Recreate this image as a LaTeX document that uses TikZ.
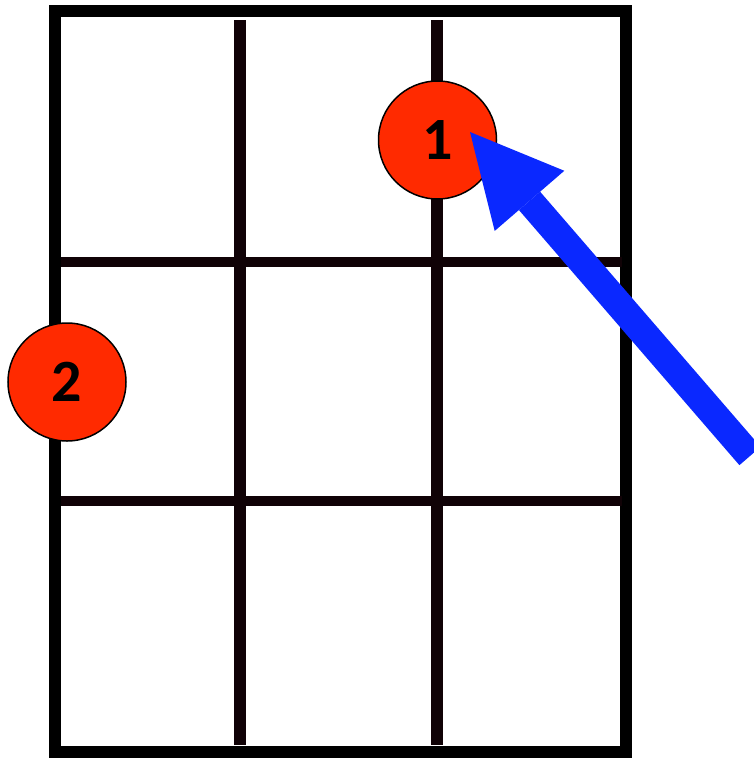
\documentclass[tikz,border=0pt]{standalone}
\usepackage{fontspec}
\setmainfont{Carlito}
\usetikzlibrary{arrows.meta}
\definecolor{dotred}{RGB}{255,42,0}
\definecolor{arrowblue}{RGB}{10,40,255}
\definecolor{gridblack}{RGB}{16,2,6}
\tikzset{
  border/.style={draw=black, line width=12pt},
  vline/.style={draw=gridblack, line width=12pt},
  hline/.style={draw=gridblack, line width=10.5pt},
  dot/.style={circle, draw=black, line width=1.5pt, fill=dotred, minimum size=118pt, inner sep=0pt,
              font=\fontsize{60}{60}\selectfont\bfseries},
  bigarrow/.style={draw=arrowblue, line width=28pt,
              -{Triangle[length=91pt,width=92pt,line width=0pt,fill=arrowblue]}}
}
\begin{document}
\begin{tikzpicture}[x=1pt,y=-1pt]
\useasboundingbox (0,0) rectangle (754,758);
\fill[white] (0,0) rectangle (754,758);
% grid
\draw[border] (55,11) rectangle (626,752);
\draw[vline] (240,20) -- (240,745);
\draw[vline] (437,20) -- (437,745);
\draw[hline] (61,262) -- (622,262);
\draw[hline] (61,501) -- (622,501);
% dots
\node[dot] (n1) at (437.5,140) {1};
\node[dot] (n2) at (67,382) {2};
% arrow
\coordinate (tail) at (750,456);
\coordinate (tip) at (470,132);
\draw[bigarrow] (tail) -- (tip);
\end{tikzpicture}
\end{document}
